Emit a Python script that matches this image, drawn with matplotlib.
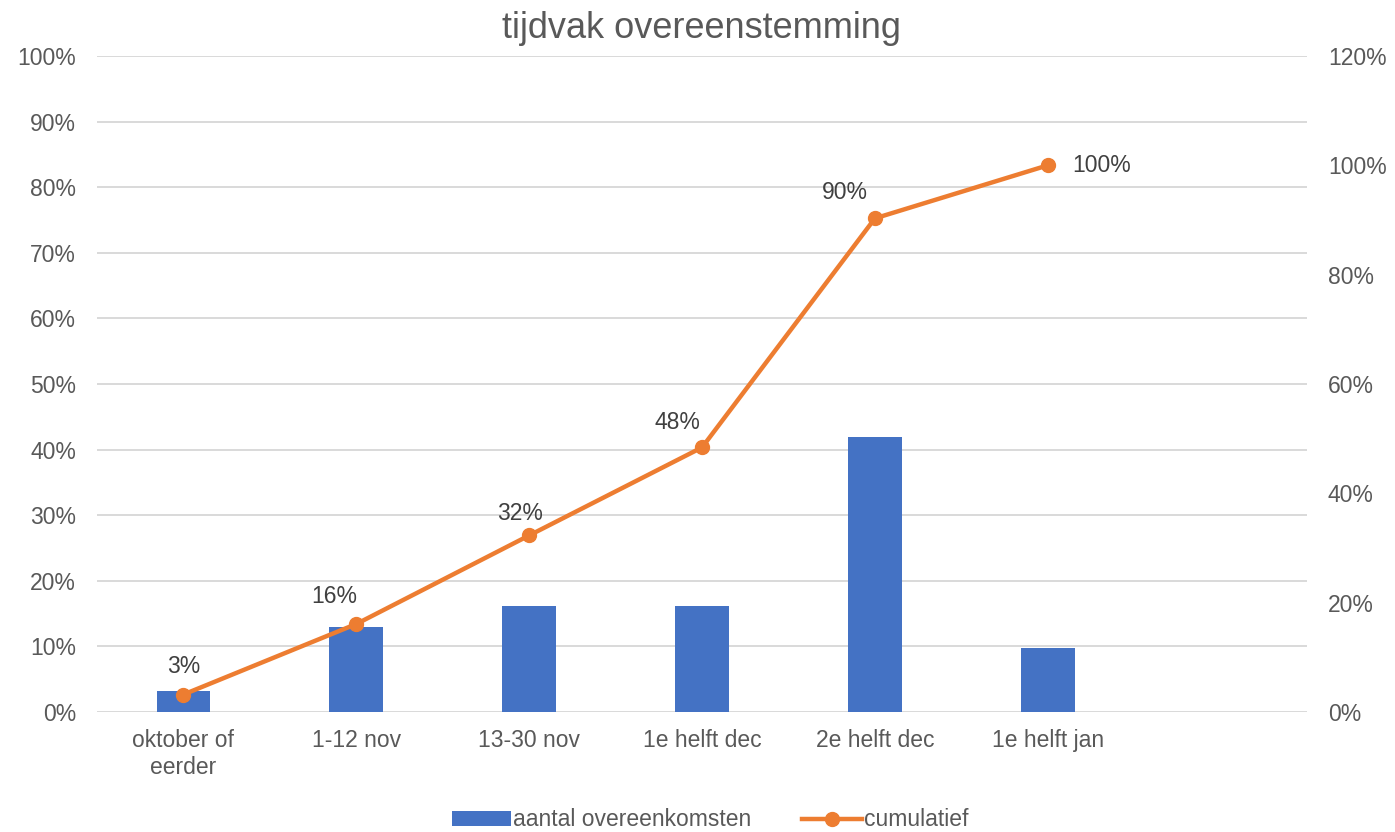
import numpy as np
import matplotlib.pyplot as plt
from matplotlib.lines import Line2D
from matplotlib.patches import Patch

plt.rcParams['font.family'] = ['Liberation Sans', 'DejaVu Sans']

# Data
categories = ['oktober of\neerder', '1-12 nov', '13-30 nov', '1e helft dec', '2e helft dec', '1e helft jan', '']
share = [3.2, 12.9, 16.1, 16.1, 41.9, 9.7]          # aantal overeenkomsten (%)
cumulative = [3.2, 16.1, 32.3, 48.4, 90.3, 100.0]   # cumulatief (%)

bar_color = '#4472C4'
line_color = '#ED7D31'
text_color = '#595959'
grid_color = '#D9D9D9'
fs = 16.5

fig = plt.figure(figsize=(13.95, 8.32), dpi=100)
ax = fig.add_axes([0.0695, 0.1442, 0.8675, 0.7885])
ax2 = ax.twinx()

x = np.arange(len(share))
ax.bar(x, share, width=0.31, color=bar_color, zorder=2)
ax.set_xlim(-0.5, len(categories) - 0.5)
ax.set_ylim(0, 100)
ax.set_yticks(np.arange(0, 101, 10))
ax.set_yticklabels([f'{v}%' for v in range(0, 101, 10)])
ax.set_xticks(np.arange(len(categories)))
ax.set_xticklabels(categories, linespacing=1.25)
ax.grid(axis='y', color=grid_color, linewidth=1.4, zorder=0)
ax.set_axisbelow(True)
ax.tick_params(axis='both', length=0, labelsize=fs, colors=text_color)
ax.tick_params(axis='x', pad=12)
ax.tick_params(axis='y', pad=15)
for s in ax.spines.values():
    s.set_visible(False)

ax2.plot(x, cumulative, color=line_color, linewidth=3.2, marker='o', markersize=10, zorder=3)
ax2.set_ylim(0, 120)
ax2.set_yticks(np.arange(0, 121, 20))
ax2.set_yticklabels([f'{v}%' for v in range(0, 121, 20)])
ax2.tick_params(axis='y', length=0, labelsize=fs, colors=text_color, pad=15)
for s in ax2.spines.values():
    s.set_visible(False)

# data labels (offsets in pixels)
offsets = [(0, 28, 'center'), (-22, 28, 'center'), (-9, 22, 'center'),
           (-25, 25, 'center'), (-30, 26, 'center'), (24, 0, 'left')]
for xi, yi, (dx, dy, ha) in zip(x, cumulative, offsets):
    ax2.annotate(f'{yi:.0f}%', (xi, yi), xytext=(dx, dy), textcoords='offset pixels',
                 ha=ha, va='center', fontsize=fs, color='#404040')

fig.suptitle('tijdvak overeenstemming', x=0.503, y=0.987, fontsize=26, color=text_color)

handles = [Patch(facecolor=bar_color, label='aantal overeenkomsten'),
           Line2D([], [], color=line_color, linewidth=3.2, marker='o', markersize=10, label='cumulatief')]
fig.legend(handles=handles, loc='lower center', bbox_to_anchor=(0.509, -0.024), ncol=2,
           frameon=False, fontsize=fs, labelcolor=text_color, handlelength=2.6,
           handletextpad=0.1, columnspacing=2.2, handleheight=0.6)

fig.savefig('out.png', dpi=100, facecolor='white')
